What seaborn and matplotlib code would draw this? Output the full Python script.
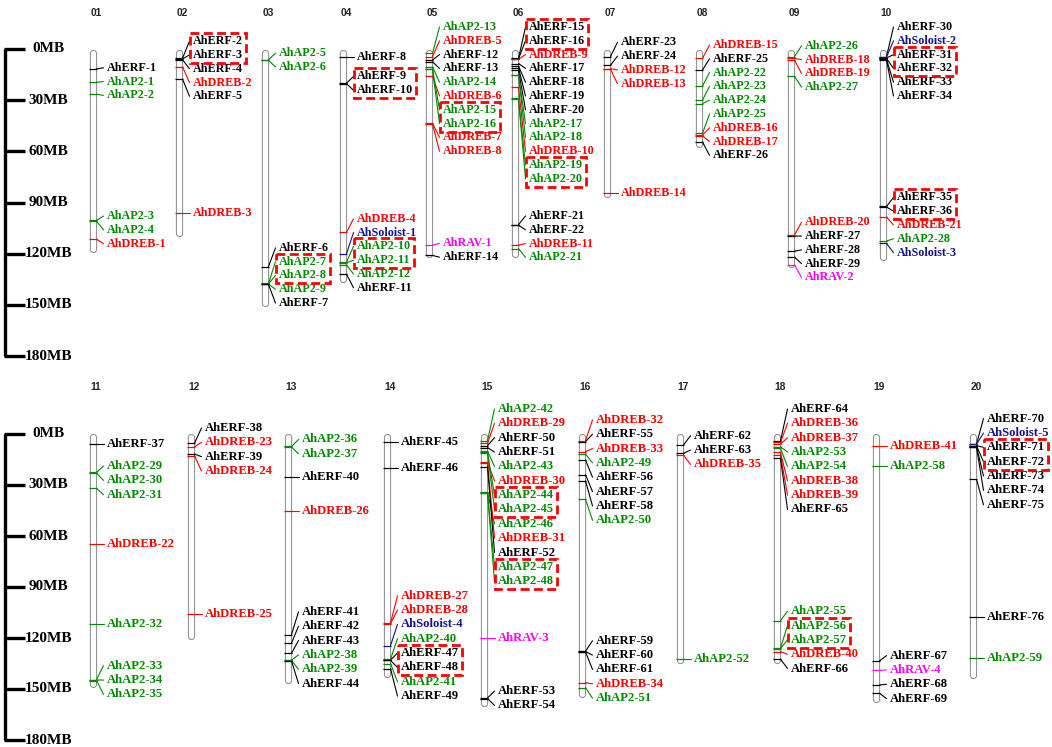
import numpy as np
import pandas as pd
import matplotlib
matplotlib.use("Agg")
import matplotlib.pyplot as plt
import seaborn as sns
from matplotlib.patches import Rectangle
from matplotlib.transforms import Bbox

# ---------------- data ----------------
chrom_names = ["01", "02", "03", "04", "05", "06", "07", "08", "09", "10",
               "11", "12", "13", "14", "15", "16", "17", "18", "19", "20"]
chrom_lengths_mb = [119, 110, 151, 137, 122, 122, 87, 58, 128, 124,
                    149, 121, 146.5, 143, 160, 155, 135, 135, 158, 144]

gene_names = [
    # 01
    "AhERF-1", "AhAP2-1", "AhAP2-2", "AhAP2-3", "AhAP2-4", "AhDREB-1",
    # 02
    "AhERF-2", "AhERF-3", "AhERF-4", "AhDREB-2", "AhERF-5", "AhDREB-3",
    # 03
    "AhAP2-5", "AhAP2-6", "AhERF-6", "AhAP2-7", "AhAP2-8", "AhAP2-9", "AhERF-7",
    # 04
    "AhERF-8", "AhERF-9", "AhERF-10", "AhDREB-4", "AhSoloist-1", "AhAP2-10", "AhAP2-11",
    "AhAP2-12", "AhERF-11",
    # 05
    "AhAP2-13", "AhDREB-5", "AhERF-12", "AhERF-13", "AhAP2-14", "AhDREB-6", "AhAP2-15",
    "AhAP2-16", "AhDREB-7", "AhDREB-8", "AhRAV-1", "AhERF-14",
    # 06
    "AhERF-15", "AhERF-16", "AhDREB-9", "AhERF-17", "AhERF-18", "AhERF-19", "AhERF-20",
    "AhAP2-17", "AhAP2-18", "AhDREB-10", "AhAP2-19", "AhAP2-20", "AhERF-21", "AhERF-22",
    "AhDREB-11", "AhAP2-21",
    # 07
    "AhERF-23", "AhERF-24", "AhDREB-12", "AhDREB-13", "AhDREB-14",
    # 08
    "AhDREB-15", "AhERF-25", "AhAP2-22", "AhAP2-23", "AhAP2-24", "AhAP2-25", "AhDREB-16",
    "AhDREB-17", "AhERF-26",
    # 09
    "AhAP2-26", "AhDREB-18", "AhDREB-19", "AhAP2-27", "AhDREB-20", "AhERF-27", "AhERF-28",
    "AhERF-29", "AhRAV-2",
    # 10
    "AhERF-30", "AhSoloist-2", "AhERF-31", "AhERF-32", "AhERF-33", "AhERF-34", "AhERF-35",
    "AhERF-36", "AhDREB-21", "AhAP2-28", "AhSoloist-3",
    # 11
    "AhERF-37", "AhAP2-29", "AhAP2-30", "AhAP2-31", "AhDREB-22", "AhAP2-32", "AhAP2-33",
    "AhAP2-34", "AhAP2-35",
    # 12
    "AhERF-38", "AhDREB-23", "AhERF-39", "AhDREB-24", "AhDREB-25",
    # 13
    "AhAP2-36", "AhAP2-37", "AhERF-40", "AhDREB-26", "AhERF-41", "AhERF-42", "AhERF-43",
    "AhAP2-38", "AhAP2-39", "AhERF-44",
    # 14
    "AhERF-45", "AhERF-46", "AhDREB-27", "AhDREB-28", "AhSoloist-4", "AhAP2-40", "AhERF-47",
    "AhERF-48", "AhAP2-41", "AhERF-49",
    # 15
    "AhAP2-42", "AhDREB-29", "AhERF-50", "AhERF-51", "AhAP2-43", "AhDREB-30", "AhAP2-44",
    "AhAP2-45", "AhAP2-46", "AhDREB-31", "AhERF-52", "AhAP2-47", "AhAP2-48", "AhRAV-3",
    "AhERF-53", "AhERF-54",
    # 16
    "AhDREB-32", "AhERF-55", "AhDREB-33", "AhAP2-49", "AhERF-56", "AhERF-57", "AhERF-58",
    "AhAP2-50", "AhERF-59", "AhERF-60", "AhERF-61", "AhDREB-34", "AhAP2-51",
    # 17
    "AhERF-62", "AhERF-63", "AhDREB-35", "AhAP2-52",
    # 18
    "AhERF-64", "AhDREB-36", "AhDREB-37", "AhAP2-53", "AhAP2-54", "AhDREB-38", "AhDREB-39",
    "AhERF-65", "AhAP2-55", "AhAP2-56", "AhAP2-57", "AhDREB-40", "AhERF-66",
    # 19
    "AhDREB-41", "AhAP2-58", "AhERF-67", "AhRAV-4", "AhERF-68", "AhERF-69",
    # 20
    "AhERF-70", "AhSoloist-5", "AhERF-71", "AhERF-72", "AhERF-73", "AhERF-74", "AhERF-75",
    "AhERF-76", "AhAP2-59",
]

gene_chrom = (["01"] * 6 + ["02"] * 6 + ["03"] * 7 + ["04"] * 9 + ["05"] * 12 + ["06"] * 16
              + ["07"] * 5 + ["08"] * 9 + ["09"] * 9 + ["10"] * 11 + ["11"] * 9 + ["12"] * 5
              + ["13"] * 10 + ["14"] * 10 + ["15"] * 16 + ["16"] * 13 + ["17"] * 4
              + ["18"] * 13 + ["19"] * 6 + ["20"] * 9)

gene_pos_mb = [
    11.7, 19.5, 26.5, 100.5, 101, 111.5,
    5.5, 5.8, 6.3, 10.5, 17.6, 96,
    6.3, 6.7, 127.5, 137.4, 137.6, 137.8, 138,
    4.5, 20, 20.3, 107.5, 120, 125, 125.3, 126.6, 132,
    2.5, 4.5, 6.5, 7.5, 10.5, 16, 11.5, 12, 43.5, 44, 115, 121,
    5.5, 5.7, 6, 8.5, 10, 11, 12.5, 15, 15.5, 22.5, 29, 29.5, 103, 103.3, 115, 117,
    4.5, 9.5, 11.5, 11.9, 84.5,
    5.5, 12.3, 21.7, 30, 32, 49.5, 50.5, 50.8, 54.5,
    4.5, 5.5, 6.5, 16, 109, 109.6, 118.5, 122, 126.5,
    4.5, 4.8, 5.3, 5.5, 6, 6.5, 92.3, 92.6, 98.5, 112.5, 114,
    6, 22.6, 23, 32, 64.7, 112, 144.5, 144.7, 145,
    5.5, 7.5, 11.8, 12.7, 106,
    7.3, 7.6, 25.5, 45.3, 118, 123, 129, 133, 133.2, 133.4,
    4.5, 20, 111.3, 111.6, 124.5, 132.5, 133, 133.2, 135, 138,
    4, 5.5, 6.9, 8, 10, 16.7, 10.8, 11, 34.3, 16.9, 19.2, 34.5, 34.7, 120, 155.3, 155.6,
    4, 4.5, 10.4, 11.8, 15.3, 24, 27.6, 38.4, 127.8, 128, 128.2, 146.3, 149.2,
    6.5, 11.4, 12.4, 132.5,
    4, 5, 6, 7.5, 8.5, 10.8, 12.3, 14.3, 109.8, 126, 126.2, 128, 132.4,
    7, 18.6, 133.5, 139, 147.6, 152.5,
    5.9, 6, 6.8, 6.9, 7.5, 7.7, 26.7, 107.8, 131.6,
]

tandem_pairs = [
    ("AhERF-2", "AhERF-3"), ("AhAP2-7", "AhAP2-8"), ("AhERF-9", "AhERF-10"),
    ("AhAP2-10", "AhAP2-11"), ("AhAP2-15", "AhAP2-16"), ("AhERF-15", "AhERF-16"),
    ("AhAP2-19", "AhAP2-20"), ("AhERF-31", "AhERF-32"), ("AhERF-35", "AhERF-36"),
    ("AhAP2-44", "AhAP2-45"), ("AhAP2-47", "AhAP2-48"), ("AhERF-47", "AhERF-48"),
    ("AhAP2-56", "AhAP2-57"), ("AhERF-71", "AhERF-72"),
]

scale_ticks_mb = [0, 30, 60, 90, 120, 150, 180]

family_colors = {"ERF": "#000000", "AP2": "#008a00", "DREB": "#ff0000",
                 "Soloist": "#14148c", "RAV": "#ff00ff"}

# ---------------- layout (pixels) ----------------
W, H = 1052, 747
chrom_x_rows = [[93, 179, 265, 343, 429, 515, 607, 699, 791, 883],
                [93, 191, 288, 387, 484, 582, 680, 777, 876, 973]]
rows = [dict(y0=0, y1=372, zero=49, ppm=1.706, gap_px=13.8, top_px=22, num_px=13, fs=8.7),
        dict(y0=372, y1=747, zero=434, ppm=1.70, gap_px=14.35, top_px=25, num_px=387, fs=9.1)]

sns.set_theme(style="white")
plt.rcParams["font.family"] = ["Liberation Serif", "DejaVu Serif"]

fig = plt.figure(figsize=(W / 100, H / 100), dpi=100)
fig.patch.set_facecolor("white")

df = pd.DataFrame({"gene": gene_names, "chrom": gene_chrom, "pos": gene_pos_mb})
df["family"] = df["gene"].str.extract(r"^Ah([A-Za-z0-9]+?)-")[0]


def layout_labels(pos, gap, top):
    groups = [[i] for i in range(len(pos))]

    def start(g):
        p = [pos[i] for i in g]
        return (min(p) + max(p)) / 2 - (len(g) - 1) * gap / 2

    changed = True
    while changed:
        changed = False
        for k in range(len(groups) - 1):
            a, b = groups[k], groups[k + 1]
            if start(b) < start(a) + len(a) * gap - 1e-6:
                groups[k] = a + b
                del groups[k + 1]
                changed = True
                break
    out = [0.0] * len(pos)
    prev_end = top
    for g in groups:
        s = max(start(g), prev_end)
        for j, i in enumerate(g):
            out[i] = s + j * gap
        prev_end = s + len(g) * gap
    return out


text_objs = {}
for r, row in enumerate(rows):
    ax = fig.add_axes([0, 1 - row["y1"] / H, 1, (row["y1"] - row["y0"]) / H])
    ylim = ((row["y1"] - row["zero"]) / row["ppm"], (row["y0"] - row["zero"]) / row["ppm"])
    ppm = row["ppm"]
    gap = row["gap_px"] / ppm
    top = -row["top_px"] / ppm

    # scale bar
    ax.plot([5, 5], [scale_ticks_mb[0], scale_ticks_mb[-1]], color="black", lw=2.4,
            solid_capstyle="butt")
    for v in scale_ticks_mb:
        ax.plot([4, 25], [v, v], color="black", lw=2.4, solid_capstyle="butt")
        ax.text(48.5, v, f"{v}MB", ha="center", va="center", fontsize=11,
                fontweight="bold", color="black")

    names_row = chrom_names[r * 10:(r + 1) * 10]
    lens_row = chrom_lengths_mb[r * 10:(r + 1) * 10]
    tick_rows = []
    for c, (cname, L) in enumerate(zip(names_row, lens_row)):
        x = chrom_x_rows[r][c]
        cap = 3.5 / ppm
        ax.plot([x, x], [cap, L - cap], color="#8a8a8a", lw=7.2 * 0.72,
                solid_capstyle="round", zorder=1)
        ax.plot([x, x], [cap, L - cap], color="white", lw=5.2 * 0.72,
                solid_capstyle="round", zorder=2)
        ax.text(x + 3, -(row["zero"] - row["num_px"]) / ppm, cname, ha="center",
                va="center", fontsize=7.4, fontweight="bold", family="Liberation Sans")

        sub = df[df["chrom"] == cname].reset_index(drop=True)
        labs = layout_labels(list(sub["pos"]), gap, top)
        for i, g in sub.iterrows():
            col = family_colors[g["family"]]
            ax.plot([x + 3.5, x + 10.5], [g["pos"], labs[i]], color=col, lw=0.8, zorder=3)
            t = ax.text(x + 13.5, labs[i], g["gene"], color=col, fontsize=row["fs"],
                        fontweight="bold", ha="left", va="center", zorder=4)
            text_objs[g["gene"]] = (t, ax)
        tick_rows.append(sub.assign(x=x))

    ticks = pd.concat(tick_rows)
    sns.scatterplot(data=ticks, x="x", y="pos", hue="family", palette=family_colors,
                    marker="_", s=38, linewidth=0.9, legend=False, ax=ax, zorder=5)
    ax.set_xlim(0, W)
    ax.set_ylim(*ylim)
    ax.axis("off")

# tandem duplicate boxes
fig.canvas.draw()
renderer = fig.canvas.get_renderer()
for a, b in tandem_pairs:
    ta, ax = text_objs[a]
    tb, _ = text_objs[b]
    bb = Bbox.union([ta.get_window_extent(renderer), tb.get_window_extent(renderer)])
    pad = 3.0
    (x0, y0), (x1, y1) = ax.transData.inverted().transform(
        [[bb.x0 - pad, bb.y0 - pad + 1], [bb.x1 + pad, bb.y1 + pad - 1]])
    rect = Rectangle((min(x0, x1), min(y0, y1)), abs(x1 - x0), abs(y1 - y0), fill=False,
                     edgecolor="#ff0000", lw=2.0, linestyle=(0, (3.2, 1.6)), zorder=6)
    ax.add_patch(rect)

fig.savefig("out.png", dpi=100, facecolor="white")
